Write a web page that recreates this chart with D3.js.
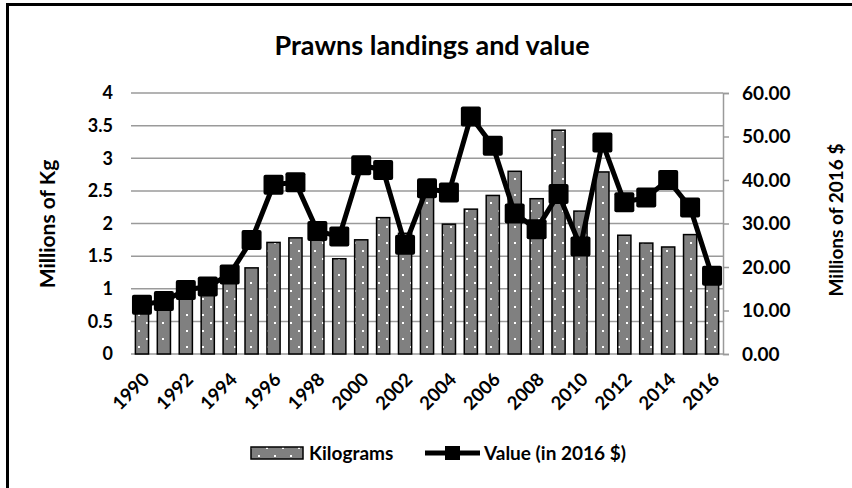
<!DOCTYPE html>
<html>
<head>
<meta charset="utf-8">
<script src="https://cdn.jsdelivr.net/npm/d3@7"></script>
<style>
  body { margin: 0; background: #ffffff; }
  text { font-family: Lato, "Open Sans", sans-serif; font-weight: bold; fill: #000; }
</style>
</head>
<body>
<div id="drawing"></div>
<script>
// chart data
const years = d3.range(1990, 2017);
const kilograms = [0.78, 0.92, 0.95, 1.0, 1.15, 1.32, 1.71, 1.78, 1.75, 1.46, 1.75, 2.09, 1.85, 2.42,
  1.99, 2.22, 2.43, 2.80, 2.38, 3.43, 2.19, 2.79, 1.82, 1.70, 1.64, 1.83, 1.15];
const values = [11.3, 12.2, 14.7, 15.5, 18.3, 26.2, 38.9, 39.5, 28.3, 27.0, 43.4, 42.3, 25.1, 38.1,
  37.1, 54.6, 47.9, 32.3, 28.7, 36.8, 24.7, 48.6, 34.9, 36.0, 40.0, 33.7, 18.0];
const leftTicks = [0, 0.5, 1, 1.5, 2, 2.5, 3, 3.5, 4];
const rightTicks = [0, 10, 20, 30, 40, 50, 60];
const yearLabels = years.filter((d) => d % 2 === 0);

const width = 852;
const height = 488;
const plot = {left: 131, right: 723, top: 93, bottom: 354};
let drawing;
let xScale;
let yLeft;
let yRight;

function setup(){
  drawing = d3.select("#drawing").append("svg")
    .attr("width", width)
    .attr("height", height)
    .style("display", "block");

  // dotted fill used by the bars
  const pat = drawing.append("defs").append("pattern")
    .attr("id", "dots")
    .attr("patternUnits", "userSpaceOnUse")
    .attr("width", 16)
    .attr("height", 16)
    .attr("x", 2)
    .attr("y", 2);
  pat.append("rect").attr("width", 16).attr("height", 16).attr("fill", "#808080");
  pat.append("rect").attr("x", 0).attr("y", 0).attr("width", 2).attr("height", 2).attr("fill", "#fff");
  pat.append("rect").attr("x", 8).attr("y", 8).attr("width", 2).attr("height", 2).attr("fill", "#fff");

  // black frame, runs off the right and bottom edge
  drawing.append("rect")
    .attr("x", 7.5).attr("y", 4.5)
    .attr("width", 860).attr("height", 500)
    .attr("fill", "none")
    .attr("stroke", "#000")
    .attr("stroke-width", 3);
}

function make(){
  xScale = d3.scaleBand().domain(years).range([plot.left, plot.right]).paddingInner(0.4).paddingOuter(0.2);
  yLeft = d3.scaleLinear().domain([0, 4]).range([plot.bottom, plot.top]);
  yRight = d3.scaleLinear().domain([0, 60]).range([plot.bottom, plot.top]);

  // gridlines
  drawing.append("g")
    .selectAll("line")
    .data(leftTicks)
    .enter()
    .append("line")
      .attr("x1", plot.left)
      .attr("x2", plot.right)
      .attr("y1", (d) => yLeft(d))
      .attr("y2", (d) => yLeft(d))
      .attr("stroke", "#9a9a9a")
      .attr("stroke-width", 1.5);

  // left axis labels, no line
  const left = drawing.append("g")
    .attr("transform", `translate(${plot.left - 18},0)`)
    .call(d3.axisLeft(yLeft).tickValues(leftTicks).tickSize(0).tickPadding(0).tickFormat(d3.format("")));
  left.select(".domain").remove();
  left.selectAll("text").style("font-size", "18px").style("font-family", null);

  // right axis
  const right = drawing.append("g")
    .attr("transform", `translate(${plot.right},0)`)
    .call(d3.axisRight(yRight).tickValues(rightTicks).tickSize(6).tickPadding(13).tickFormat(d3.format(".2f")));
  right.select(".domain").attr("stroke", "#9a9a9a").attr("stroke-width", 1.5);
  right.selectAll(".tick line").attr("stroke", "#9a9a9a").attr("stroke-width", 1.5);
  right.selectAll("text").style("font-size", "19px").style("font-family", null);

  // bars
  drawing.append("g")
    .selectAll(".bar")
    .data(years)
    .enter()
    .append("rect")
      .attr("class", "bar")
      .attr("x", (d) => xScale(d))
      .attr("y", (d, i) => yLeft(kilograms[i]))
      .attr("width", xScale.bandwidth())
      .attr("height", (d, i) => yLeft(0) - yLeft(kilograms[i]))
      .attr("fill", "url(#dots)")
      .attr("stroke", "#000")
      .attr("stroke-width", 1.5);

  // x labels, rotated
  const cx = (d) => xScale(d) + xScale.bandwidth() / 2;
  drawing.append("g")
    .selectAll("text")
    .data(yearLabels)
    .enter()
    .append("text")
      .attr("transform", (d) => `translate(${cx(d) + 4},${plot.bottom + 22}) rotate(-45)`)
      .attr("text-anchor", "end")
      .attr("dy", "0.35em")
      .style("font-size", "18.5px")
      .text((d) => d);

  // value line with square markers
  const line = d3.line()
    .x((d, i) => cx(years[i]))
    .y((d) => yRight(d));
  drawing.append("path")
    .datum(values)
    .attr("d", line)
    .attr("fill", "none")
    .attr("stroke", "#000")
    .attr("stroke-width", 5)
    .attr("stroke-linejoin", "round");
  drawing.append("g")
    .selectAll("rect")
    .data(values)
    .enter()
    .append("rect")
      .attr("x", (d, i) => cx(years[i]) - 10)
      .attr("y", (d) => yRight(d) - 10)
      .attr("width", 20)
      .attr("height", 20)
      .attr("rx", 2)
      .attr("fill", "#000");

  // title and axis titles
  drawing.append("text")
    .attr("x", 432).attr("y", 55)
    .attr("text-anchor", "middle")
    .style("font-size", "27px")
    .text("Prawns landings and value");
  drawing.append("text")
    .attr("transform", `translate(55,224) rotate(-90)`)
    .attr("text-anchor", "middle")
    .style("font-size", "21px")
    .text("Millions of Kg");
  drawing.append("text")
    .attr("transform", `translate(843,220) rotate(-90)`)
    .attr("text-anchor", "middle")
    .style("font-size", "19px")
    .text("Millions of 2016 $");

  // legend
  const legend = drawing.append("g").attr("transform", "translate(0,453)");
  legend.append("rect")
    .attr("x", 251).attr("y", -6)
    .attr("width", 52).attr("height", 12)
    .attr("fill", "url(#dots)")
    .attr("stroke", "#000")
    .attr("stroke-width", 1.5);
  legend.append("text")
    .attr("x", 309).attr("dy", "0.35em")
    .style("font-size", "19px")
    .text("Kilograms");
  legend.append("line")
    .attr("x1", 425).attr("x2", 480)
    .attr("stroke", "#000").attr("stroke-width", 5);
  legend.append("rect")
    .attr("x", 445).attr("y", -7)
    .attr("width", 15).attr("height", 14)
    .attr("fill", "#000");
  legend.append("text")
    .attr("x", 484).attr("dy", "0.35em")
    .style("font-size", "19px")
    .text("Value (in 2016 $)");
}

setup();
make();
</script>
</body>
</html>
